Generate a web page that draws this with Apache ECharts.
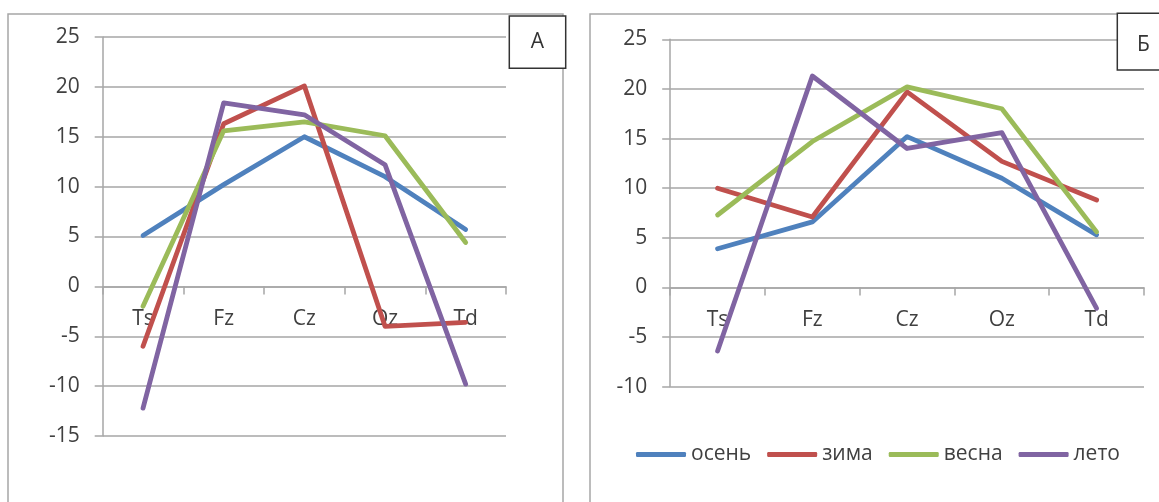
<!DOCTYPE html>
<html>
<head>
<meta charset="utf-8">
<script src="https://cdn.jsdelivr.net/npm/echarts@6/dist/echarts.min.js"></script>
<style>html,body{margin:0;padding:0;background:#fff}#c{width:1159px;height:502px}</style>
</head>
<body>
<div id="c"></div>
<script>
const categories = ['Ts', 'Fz', 'Cz', 'Oz', 'Td'];
const seriesNames = ['осень', 'зима', 'весна', 'лето'];
// Panel А
const a_osen  = [5.1, 10.2, 15.0, 11.0, 5.7];
const a_zima  = [-6.0, 16.3, 20.1, -4.0, -3.6];
const a_vesna = [-2.0, 15.6, 16.5, 15.1, 4.4];
const a_leto  = [-12.2, 18.4, 17.2, 12.2, -9.8];
// Panel Б
const b_osen  = [3.9, 6.6, 15.2, 11.0, 5.3];
const b_zima  = [10.0, 7.1, 19.7, 12.7, 8.8];
const b_vesna = [7.3, 14.7, 20.2, 18.0, 5.6];
const b_leto  = [-6.4, 21.3, 14.0, 15.6, -2.1];
const yTicksA = {min: -15, max: 25, interval: 5};
const yTicksB = {min: -10, max: 25, interval: 5};

const colors = ['#4F81BD', '#C0504D', '#9BBB59', '#8064A2'];
const FONT = '"Open Sans", "Noto Sans", sans-serif';
const gridColor = '#a6a6a6';

const grids = [
  {left: 102.7, top: 37, width: 403.3, height: 399},
  {left: 670.2, top: 39.3, width: 473.8, height: 347.4}
];
const ticks = [yTicksA, yTicksB];

function xAxis(gi) {
  const g = grids[gi], t = ticks[gi];
  // distance from grid bottom up to the value-0 line
  const zeroUp = g.height * (0 - t.min) / (t.max - t.min);
  return {
    type: 'category', gridIndex: gi, data: categories, boundaryGap: true,
    position: 'bottom', offset: -zeroUp,
    axisLine: {onZero: false, lineStyle: {color: gridColor, width: 1.5}},
    axisTick: {show: true, length: 8, inside: false, lineStyle: {color: gridColor, width: 1.5}},
    axisLabel: {margin: 22, fontSize: 21, fontFamily: FONT, color: '#404040'},
    splitLine: {show: false}
  };
}
function yAxis(gi, t) {
  return {
    type: 'value', gridIndex: gi, min: t.min, max: t.max, interval: t.interval,
    axisLine: {show: true, lineStyle: {color: gridColor, width: 1.5}},
    axisTick: {show: true, length: 8, lineStyle: {color: gridColor, width: 1.5}},
    axisLabel: {margin: 23, fontSize: 21, fontFamily: FONT, color: '#404040'},
    splitLine: {show: true, lineStyle: {color: gridColor, width: 1.5}}
  };
}
const dataA = [a_osen, a_zima, a_vesna, a_leto];
const dataB = [b_osen, b_zima, b_vesna, b_leto];
const series = [];
[dataA, dataB].forEach((set, gi) => {
  set.forEach((d, i) => {
    series.push({
      name: seriesNames[i], type: 'line', xAxisIndex: gi, yAxisIndex: gi,
      data: d, symbol: 'none', smooth: false, animation: false, z: 3,
      lineStyle: {color: colors[i], width: 4.8, join: 'round', cap: 'round'},
      itemStyle: {color: colors[i]}
    });
  });
});

const chart = echarts.init(document.getElementById('c'), null, {renderer: 'canvas'});
chart.setOption({
  animation: false,
  backgroundColor: '#ffffff',
  grid: grids,
  xAxis: [xAxis(0), xAxis(1)],
  yAxis: [yAxis(0, yTicksA), yAxis(1, yTicksB)],
  legend: {
    data: seriesNames, left: 631, top: 439, itemWidth: 50, itemHeight: 5,
    itemGap: 16, icon: 'roundRect', selectedMode: false,
    textStyle: {fontSize: 21, fontFamily: FONT, color: '#404040'}
  },
  series: series,
  graphic: [
    {type: 'rect', z: -10, shape: {x: 8, y: 14, width: 555, height: 520}, style: {fill: 'none', stroke: '#a6a6a6', lineWidth: 1.5}},
    {type: 'rect', z: -10, shape: {x: 590, y: 14, width: 600, height: 520}, style: {fill: 'none', stroke: '#a6a6a6', lineWidth: 1.5}},
    {type: 'rect', z: 100, shape: {x: 509.3, y: 16, width: 56.4, height: 52.3}, style: {fill: '#fff', stroke: '#333', lineWidth: 1.5}},
    {type: 'text', z: 101, style: {text: 'А', x: 537.5, y: 42, align: 'center', verticalAlign: 'middle', font: '21px "Open Sans", sans-serif', fill: '#333'}},
    {type: 'rect', z: 100, shape: {x: 1117.3, y: 13.3, width: 60, height: 56.7}, style: {fill: '#fff', stroke: '#333', lineWidth: 1.5}},
    {type: 'text', z: 101, style: {text: 'Б', x: 1143.5, y: 45, align: 'center', verticalAlign: 'middle', font: '21px "Open Sans", sans-serif', fill: '#333'}}
  ]
});
</script>
</body>
</html>
